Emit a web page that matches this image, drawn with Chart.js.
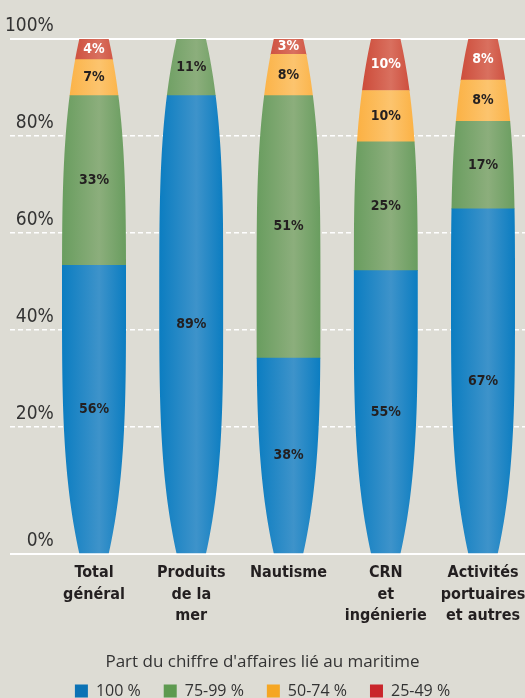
<!DOCTYPE html>
<html>
<head>
<meta charset="utf-8">
<script src="https://cdn.jsdelivr.net/npm/chart.js@4/dist/chart.umd.min.js"></script>
<style>
  html, body { margin: 0; padding: 0; background: #dddcd4; overflow: hidden; }
  #wrap { width: 525px; height: 698px; position: relative; }
</style>
</head>
<body>
<div id="wrap"><canvas id="chart"></canvas></div>
<script>
// categories (one array of lines per bar)
const categories = [
  ["Total", "général"],
  ["Produits", "de la", "mer"],
  ["Nautisme"],
  ["CRN", "et", "ingénierie"],
  ["Activités", "portuaires", "et autres"],
];
const seriesNames = ["100 %", "75-99 %", "50-74 %", "25-49 %"];
const share100 = [56, 89, 38, 55, 67];
const share75to99 = [33, 11, 51, 25, 17];
const share50to74 = [7, 0, 8, 10, 8];
const share25to49 = [4, 0, 3, 10, 8];
const yTickValues = [0, 20, 40, 60, 80, 100];
const yTickLabels = ["0%", "20%", "40%", "60%", "80%", "100%"];

const seriesData = [share100, share75to99, share50to74, share25to49];
const darkColors = ["#0b7dc1", "#699d5f", "#fbaf3f", "#c9412f"];
const lightColors = ["#3e93ca", "#8cae7c", "#fcc46e", "#d9705f"];
const legendColors = ["#0b72b5", "#5e9a50", "#f5a623", "#c9252b"];
const valueColors = ["#231f20", "#231f20", "#231f20", "#ffffff"];

const NARROW = '"Liberation Sans Narrow", "DejaVu Sans Condensed", sans-serif';
const SANS = '"Open Sans", "Liberation Sans", sans-serif';
const BAR_W = 64;

// the baseline of the printed grid sits lower than the 20-point spacing
const GRID_MIN = -6.2;

function shade(ctx, i) {
  const chart = ctx.chart;
  if (!chart.chartArea || !chart.scales.x) return darkColors[i];
  const cx = chart.scales.x.getPixelForValue(ctx.dataIndex);
  const g = chart.ctx.createLinearGradient(cx - BAR_W / 2, 0, cx + BAR_W / 2, 0);
  g.addColorStop(0, darkColors[i]);
  g.addColorStop(0.58, lightColors[i]);
  g.addColorStop(1, darkColors[i]);
  return g;
}

function lensPath(ctx, cx, top, bottom, half) {
  const cy = (top + bottom) / 2, h = (bottom - top) / 2, n = 80;
  const w = y => half * (1 - 0.54 * Math.pow(Math.abs((y - cy) / h), 3.3));
  for (let k = 0; k <= n; k++) {
    const y = top + (bottom - top) * k / n;
    if (k === 0) ctx.moveTo(cx - w(y), y); else ctx.lineTo(cx - w(y), y);
  }
  for (let k = n; k >= 0; k--) {
    const y = top + (bottom - top) * k / n;
    ctx.lineTo(cx + w(y), y);
  }
  ctx.closePath();
}

const lensClip = {
  id: "lensClip",
  beforeDatasetsDraw(chart) {
    const ctx = chart.ctx, y = chart.scales.y;
    const bars = chart.getDatasetMeta(0).data;
    ctx.save();
    ctx.beginPath();
    bars.forEach(bar => lensPath(ctx, bar.x, y.getPixelForValue(100), y.getPixelForValue(0), bar.width / 2));
    ctx.clip();
  },
  afterDatasetsDraw(chart) {
    const ctx = chart.ctx, area = chart.chartArea;
    ctx.restore();
    ctx.save();
    ctx.beginPath();
    ctx.rect(area.left, area.top, area.right - area.left, area.bottom - area.top);
    ctx.clip();
    ctx.font = "bold 14px " + NARROW;
    ctx.textAlign = "center";
    ctx.textBaseline = "middle";
    seriesData.forEach((vals, d) => {
      chart.getDatasetMeta(d).data.forEach((bar, i) => {
        if (!vals[i]) return;
        ctx.fillStyle = valueColors[d];
        ctx.fillText(vals[i] + "%", bar.x, (bar.y + bar.base) / 2);
      });
    });
    ctx.restore();
  },
};

const datasets = seriesData.map((vals, d) => ({
  label: seriesNames[d],
  data: vals.map((v, i) => ({ x: i, y: v })),
  backgroundColor: ctx => shade(ctx, d),
  borderWidth: 0,
  barThickness: BAR_W,
  xAxisID: "x",
  yAxisID: "y",
}));

new Chart(document.getElementById("chart"), {
  type: "bar",
  data: { datasets },
  plugins: [lensClip],
  options: {
    responsive: true,
    maintainAspectRatio: false,
    animation: false,
    layout: { padding: { top: 39, left: 0, right: 0, bottom: -11 } },
    plugins: {
      tooltip: { enabled: false },
      legend: {
        position: "bottom",
        title: {
          display: true,
          text: "Part du chiffre d'affaires lié au maritime",
          color: "#333",
          font: { family: SANS, size: 17 },
          padding: { top: 0, bottom: -14 },
        },
        labels: {
          boxWidth: 13,
          boxHeight: 13,
          padding: 23,
          color: "#333",
          font: { family: SANS, size: 16 },
          generateLabels: () => seriesNames.map((n, i) => ({
            text: n, fillStyle: legendColors[i], strokeStyle: legendColors[i],
            lineWidth: 0, hidden: false, datasetIndex: i, fontColor: "#333",
          })),
        },
      },
    },
    scales: {
      x: {
        type: "linear",
        stacked: true,
        offset: false,
        bounds: "data",
        min: -0.8638,
        max: 4.4318,
        afterBuildTicks: s => { s.ticks = categories.map((c, i) => ({ value: i })); },
        afterFit: s => { s.height = 100; s.paddingLeft = 0; s.paddingRight = 0; },
        ticks: {
          autoSkip: false,
          maxRotation: 0,
          padding: 9,
          color: "#231f20",
          font: { family: NARROW, size: 16, weight: "bold", lineHeight: 1.34 },
          callback: v => categories[Math.round(v)],
        },
        grid: { display: false, drawTicks: false },
        border: { display: false },
      },
      y: { stacked: true, min: 0, max: 100, display: false },
      yg: {
        type: "linear",
        position: "left",
        display: true,
        min: GRID_MIN,
        max: 100,
        afterBuildTicks: s => { s.ticks = yTickValues.map(v => ({ value: v === 0 ? s.min : v })); },
        afterFit: s => { s.width = 10; },
        ticks: {
          mirror: true,
          crossAlign: "far",
          padding: -5,
          labelOffset: -13,
          color: "#333",
          font: { family: NARROW, size: 19 },
          callback: (v, i) => yTickLabels[i],
        },
        grid: {
          color: "#ffffff",
          drawTicks: false,
          lineWidth: c => (c.index === 0 || c.index === yTickValues.length - 1) ? 2 : 1.5,
        },
        border: {
          display: false,
          dash: c => (c.index === 0 || c.index === yTickValues.length - 1) ? [] : [5, 3],
        },
      },
    },
  },
});
</script>
</body>
</html>
